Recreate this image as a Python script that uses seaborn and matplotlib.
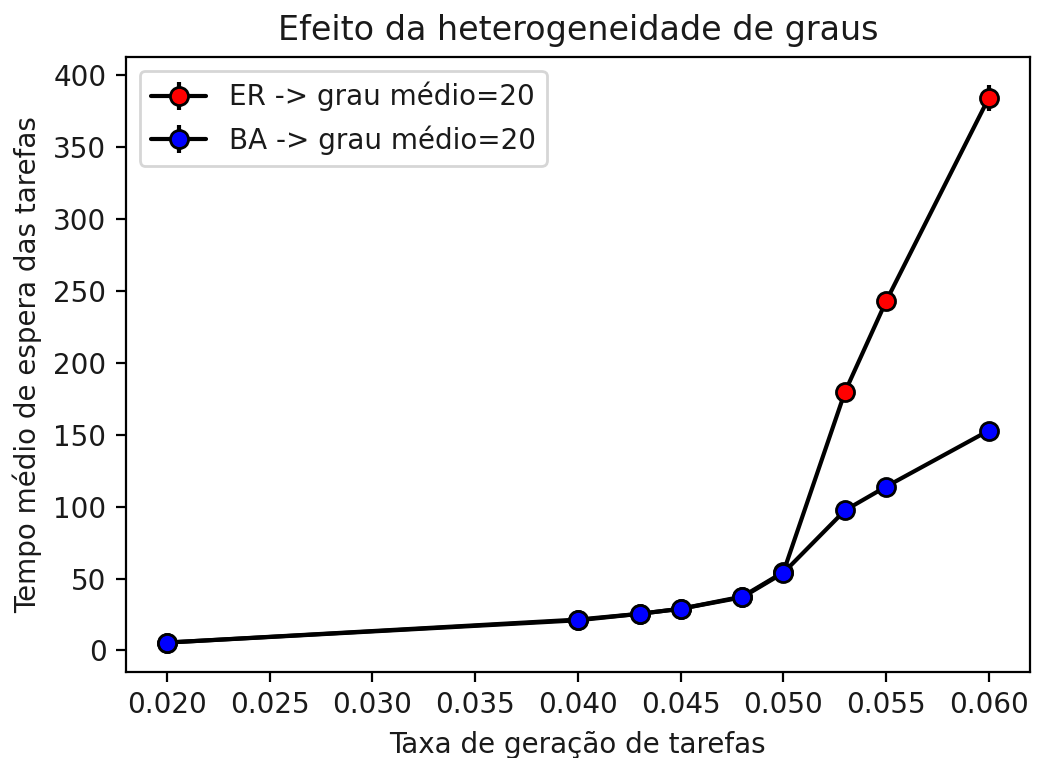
import matplotlib
matplotlib.use("Agg")
import matplotlib.pyplot as plt
import seaborn as sns
import numpy as np

taxa = [0.020, 0.040, 0.043, 0.045, 0.048, 0.050, 0.053, 0.055, 0.060]
er_mean = [5.5, 21.5, 25.5, 29.0, 37.5, 54.5, 180.0, 243.0, 384.5]
er_err = [1.0, 1.5, 1.5, 2.0, 2.5, 3.0, 4.5, 6.0, 9.0]
ba_mean = [5.5, 21.0, 25.5, 29.0, 37.0, 54.0, 97.5, 114.0, 153.0]
ba_err = [1.0, 1.5, 1.5, 2.0, 2.5, 3.0, 3.0, 3.5, 5.0]

sns.set_style("ticks", {"axes.edgecolor": "black", "xtick.color": "black",
                        "ytick.color": "black", "axes.labelcolor": "#1a1a1a",
                        "text.color": "#1a1a1a"})
plt.rcParams['font.family'] = ['DejaVu Sans']
plt.rcParams['font.size'] = 10

DPI = 200
fig = plt.figure(figsize=(1058/DPI, 758/DPI), dpi=DPI)
ax = fig.add_axes([0.119, 0.1135, 0.8545, 0.8115])

ax.errorbar(taxa, er_mean, yerr=er_err, fmt='-o', color='black', mfc='red',
            mec='black', ms=6.5, lw=1.5, label='ER -> grau médio=20')
ax.errorbar(taxa, ba_mean, yerr=ba_err, fmt='-o', color='black', mfc='blue',
            mec='black', ms=6.5, lw=1.5, label='BA -> grau médio=20')

ax.set_xticks([0.020, 0.025, 0.030, 0.035, 0.040, 0.045, 0.050, 0.055, 0.060])
ax.set_xticklabels(["0.020", "0.025", "0.030", "0.035", "0.040", "0.045", "0.050", "0.055", "0.060"])
ax.set_yticks([0, 50, 100, 150, 200, 250, 300, 350, 400])
ax.tick_params(direction='out', length=3.5, width=0.8, labelsize=10,
               labelcolor='#1a1a1a')
for s in ax.spines.values():
    s.set_linewidth(0.8)

ax.set_title("Efeito da heterogeneidade de graus", fontsize=12)
ax.set_xlabel("Taxa de geração de tarefas", fontsize=10)
ax.set_ylabel("Tempo médio de espera das tarefas", fontsize=10)
ax.legend(loc='upper left', fontsize=10, frameon=True)

fig.savefig("out.png", dpi=DPI)
